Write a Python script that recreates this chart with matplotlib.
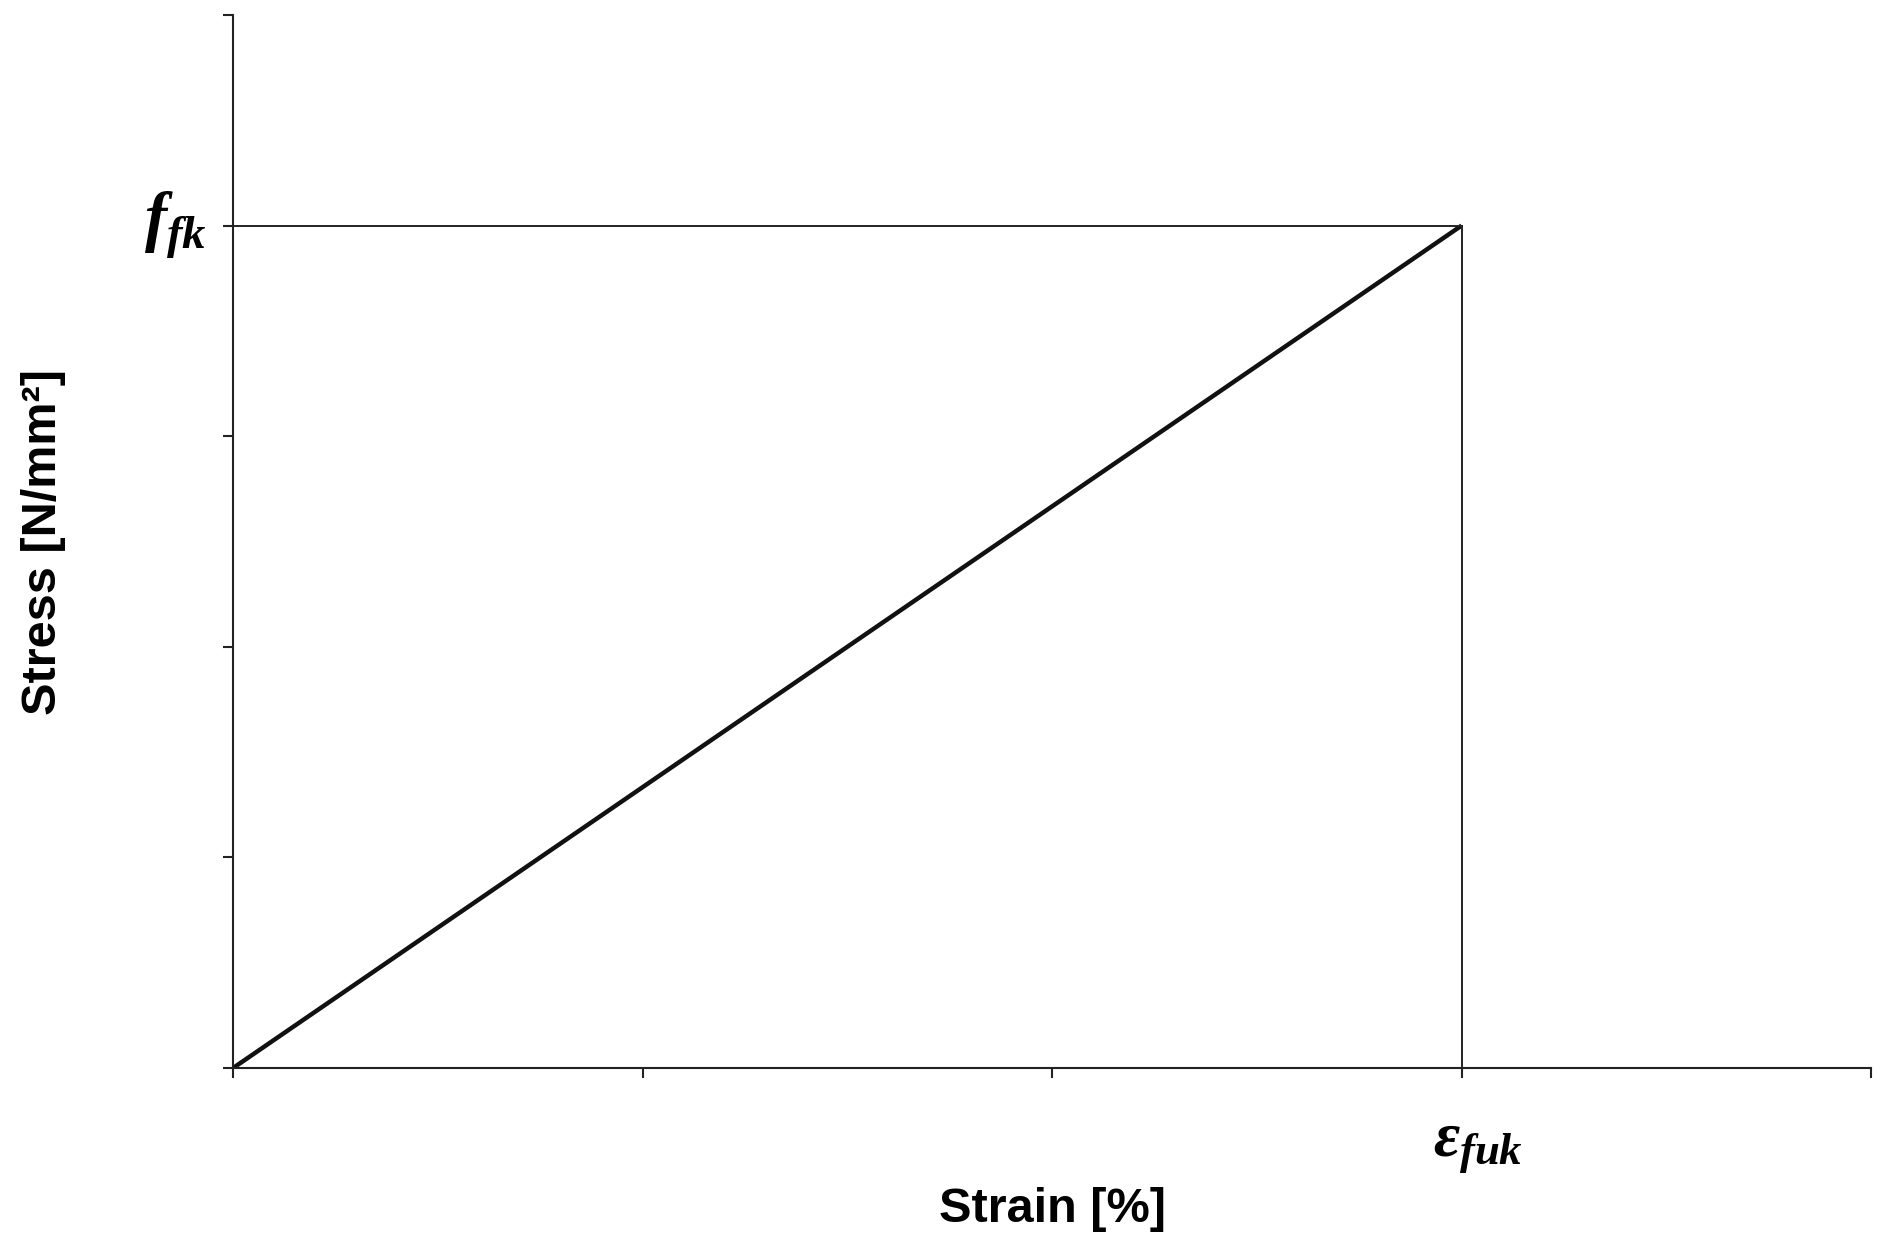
import matplotlib.pyplot as plt
import numpy as np

plt.rcParams['mathtext.fontset'] = 'custom'
plt.rcParams['mathtext.it'] = 'Liberation Serif:italic:bold'
plt.rcParams['mathtext.rm'] = 'Liberation Serif:bold'

# idealised linear-elastic stress-strain (arbitrary units)
strain = [0, 3]
stress = [0, 4]
x_ticks = [0, 1, 2, 3, 4]
y_ticks = [0, 1, 2, 3, 4, 5]
eps_fuk = strain[-1]
f_fk = stress[-1]

fig = plt.figure(figsize=(18.9, 12.47), dpi=100)
ax = fig.add_axes([0.1233, 0.1435, 0.8667, 0.8445])

# stress-strain line
ax.plot(strain, stress, color='#111111', lw=3.2, solid_capstyle='butt')
# guide lines to f_fk and eps_fuk
ax.plot([0, eps_fuk], [f_fk, f_fk], color='#222222', lw=1.4)
ax.plot([eps_fuk, eps_fuk], [0, f_fk], color='#222222', lw=1.4)

ax.set_xlim(0, x_ticks[-1])
ax.set_ylim(0, y_ticks[-1])
for s in ['top', 'right']:
    ax.spines[s].set_visible(False)
for s in ['left', 'bottom']:
    ax.spines[s].set_linewidth(1.5)
    ax.spines[s].set_color('#222222')

ax.set_xticks(x_ticks)
ax.set_yticks(y_ticks)
ax.set_xticklabels([])
ax.set_yticklabels([])
ax.tick_params(axis='both', direction='out', length=7, width=1.5, color='#222222')
for t in ax.xaxis.get_major_ticks() + ax.yaxis.get_major_ticks():
    t.tick1line.set_clip_on(False)

# special tick labels
ax.text(-0.065, f_fk, r'$f_{fk}$', fontsize=48, ha='right', va='center')
ax.text(eps_fuk + 0.04, -0.36, r'$ε_{fuk}$', fontsize=46, ha='center',
        va='center')

ax.set_xlabel('Strain [%]', fontsize=35, fontweight='bold',
              family='Liberation Sans')
ax.set_ylabel('Stress [N/mm²]', fontsize=35, fontweight='bold',
              family='Liberation Sans')
ax.xaxis.set_label_coords(0.5, -0.113)
ax.yaxis.set_label_coords(-0.102, 0.5)

fig.savefig('out.png', dpi=100)
